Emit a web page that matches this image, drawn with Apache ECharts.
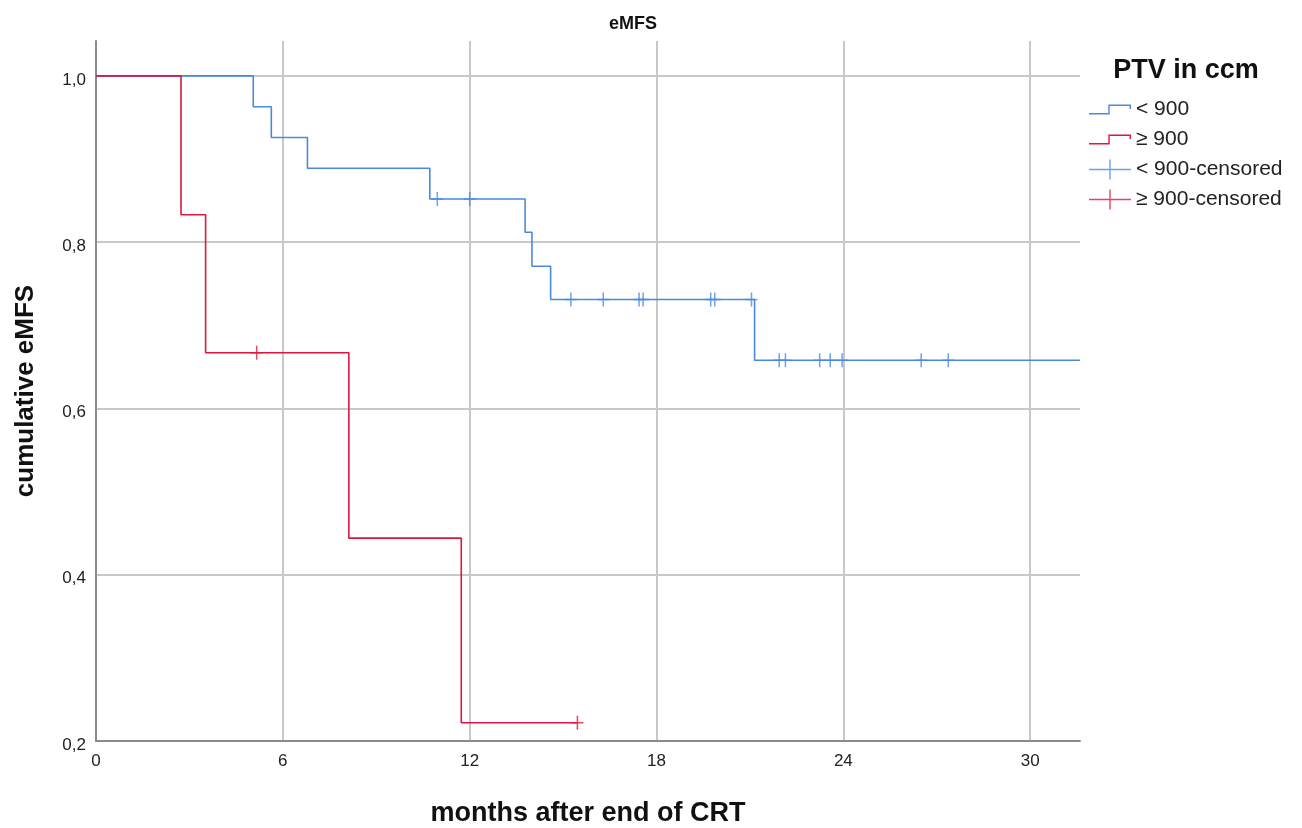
<!DOCTYPE html>
<html>
<head>
<meta charset="utf-8">
<script src="https://cdn.jsdelivr.net/npm/echarts@6/dist/echarts.min.js"></script>
<style>
  html, body { margin: 0; padding: 0; background: #fff; }
  #chart { width: 1302px; height: 828px; }
</style>
</head>
<body>
<div id="chart"></div>
<script>
// ---- data ----
const seriesNames = ['< 900', '≥ 900', '< 900-censored', '≥ 900-censored'];
const xTicks = [0, 6, 12, 18, 24, 30];
const yTicks = [0.2, 0.4, 0.6, 0.8, 1.0];

// Kaplan-Meier steps: [month, cumulative survival]
const lowSteps = [
  [0, 1.0], [5.05, 0.963], [5.63, 0.926], [6.79, 0.889], [10.72, 0.852],
  [13.78, 0.812], [14.0, 0.771], [14.6, 0.731], [21.15, 0.658], [31.6, 0.658]
];
const highSteps = [
  [0, 1.0], [2.73, 0.833], [3.52, 0.667], [8.12, 0.444], [11.73, 0.222], [15.46, 0.222]
];
// censored observations
const lowCensored = [
  [10.96, 0.852], [12.0, 0.852], [15.25, 0.731], [16.29, 0.731], [17.44, 0.731],
  [17.57, 0.731], [19.74, 0.731], [19.87, 0.731], [21.05, 0.731], [21.94, 0.658],
  [22.14, 0.658], [23.24, 0.658], [23.58, 0.658], [23.96, 0.658], [26.5, 0.658],
  [27.37, 0.658]
];
const highCensored = [[5.16, 0.667], [15.46, 0.222]];

// ---- styling ----
const BLUE = '#4a89e2';
const RED = '#e1153d';
const FONT = '"Liberation Sans", Arial, sans-serif';
const PLUS = 'path://M0,6.25 H12 V7.75 H0 Z M5.25,0 H6.75 V14 H5.25 Z';
const STEP_ICON = 'path://M0,8.6 H19.3 V0 H42 V4.5 H40.6 V1.4 H20.7 V10 H0 Z';
const CENS_ICON = 'path://M0,9.3 H42 V10.7 H0 Z M20.3,0 H21.7 V20 H20.3 Z';

const chart = echarts.init(document.getElementById('chart'), null, { renderer: 'canvas' });

function yLabel(v) {
  const r = Math.round(v * 10) / 10;
  if (Math.abs(v - r) > 1e-6 || Math.round(r * 10) % 2 !== 0) return '';
  return r.toFixed(1).replace('.', ',');
}
function xLabel(v) {
  return xTicks.indexOf(Math.round(v * 1000) / 1000) >= 0 ? String(v) : '';
}

chart.setOption({
  animation: false,
  backgroundColor: '#ffffff',
  title: [
    {
      text: 'eMFS', left: 628, top: 10, textAlign: 'center',
      textStyle: { fontFamily: FONT, fontSize: 18, fontWeight: 'bold', color: '#111' }
    },
    {
      text: 'PTV in ccm', left: 1181, top: 52, textAlign: 'center',
      textStyle: { fontFamily: FONT, fontSize: 27, fontWeight: 'bold', color: '#111' }
    }
  ],
  legend: {
    orient: 'vertical',
    left: 1084,
    top: 94,
    itemWidth: 42,
    itemHeight: 20,
    itemGap: 9,
    symbolKeepAspect: true,
    textStyle: { fontFamily: FONT, fontSize: 21, color: '#222' },
    data: [
      { name: seriesNames[0], icon: STEP_ICON },
      { name: seriesNames[1], icon: STEP_ICON },
      { name: seriesNames[2], icon: CENS_ICON },
      { name: seriesNames[3], icon: CENS_ICON }
    ]
  },
  grid: { left: 96, right: 222, top: 41, bottom: 87, containLabel: false, outerBoundsMode: 'none' },
  xAxis: {
    type: 'value',
    min: 0, max: 31.6, interval: 6,
    name: 'months after end of CRT',
    nameLocation: 'middle',
    nameGap: 59,
    nameTextStyle: { fontFamily: FONT, fontSize: 27, fontWeight: 'bold', color: '#111' },
    axisLine: { show: true, lineStyle: { color: '#8a8a8a', width: 2 } },
    axisTick: { show: false },
    axisLabel: {
      formatter: xLabel, showMaxLabel: false, margin: 12,
      fontFamily: FONT, fontSize: 17, color: '#222'
    },
    splitLine: { show: true, showMinLine: false, showMaxLine: false, lineStyle: { color: '#c8c8c8', width: 2 } }
  },
  yAxis: {
    type: 'value',
    min: 0.2, max: 1.042, interval: 0.2,
    name: 'cumulative eMFS',
    nameLocation: 'middle',
    nameGap: 57,
    nameRotate: 90,
    nameTextStyle: { fontFamily: FONT, fontSize: 26, fontWeight: 'bold', color: '#111' },
    axisLine: { show: true, lineStyle: { color: '#8a8a8a', width: 2 } },
    axisTick: { show: false },
    axisLabel: {
      formatter: yLabel, showMaxLabel: false, margin: 10,
      verticalAlign: 'top', lineHeight: 8,
      fontFamily: FONT, fontSize: 17, color: '#222'
    },
    splitLine: { show: true, showMinLine: false, showMaxLine: false, lineStyle: { color: '#c8c8c8', width: 2 } }
  },
  series: [
    {
      name: seriesNames[0], type: 'line', step: 'end', data: lowSteps,
      showSymbol: false, symbol: 'none', color: BLUE,
      lineStyle: { color: BLUE, width: 1.6 }, itemStyle: { color: BLUE }, z: 3
    },
    {
      name: seriesNames[1], type: 'line', step: 'end', data: highSteps,
      showSymbol: false, symbol: 'none', color: RED,
      lineStyle: { color: RED, width: 1.6 }, itemStyle: { color: RED }, z: 3
    },
    {
      name: seriesNames[2], type: 'scatter', data: lowCensored,
      symbol: PLUS, symbolSize: [12, 14], color: BLUE, itemStyle: { color: BLUE }, z: 4
    },
    {
      name: seriesNames[3], type: 'scatter', data: highCensored,
      symbol: PLUS, symbolSize: [12, 14], color: RED, itemStyle: { color: RED }, z: 4
    }
  ]
});
</script>
</body>
</html>
